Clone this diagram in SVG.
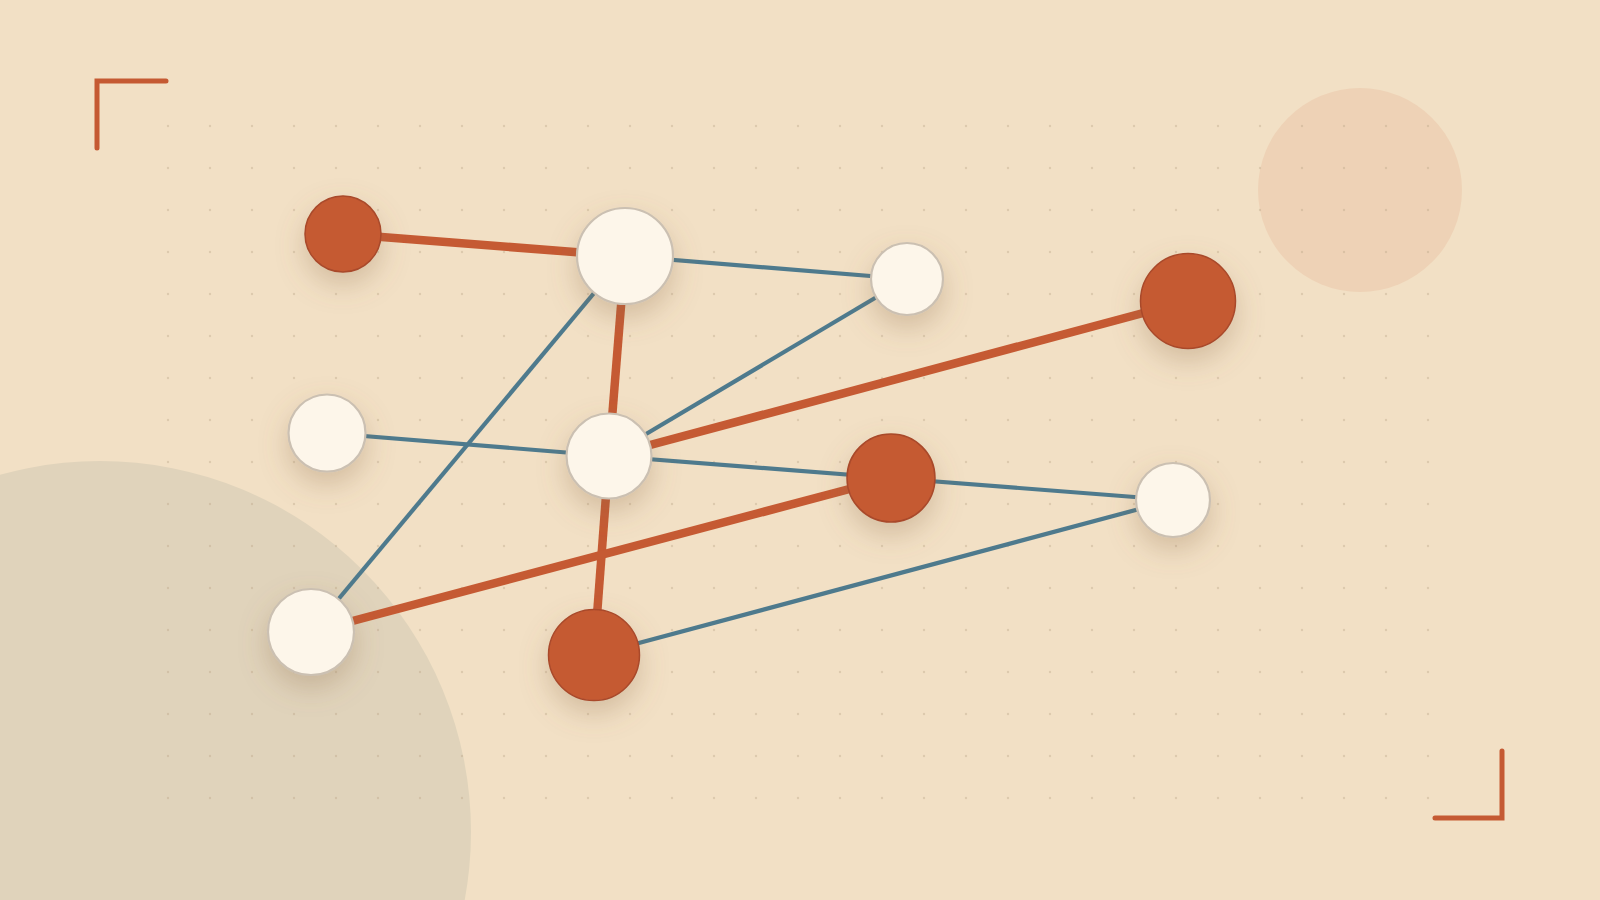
<svg xmlns="http://www.w3.org/2000/svg" width="1600" height="900" viewBox="0 0 1600 900">
  <defs>
    <style>
      .bg { fill: #f2e0c5; }
      .blob1 { fill: #e0d3bb; }
      .blob2 { fill: #eed2b6; }
      .bracket { fill: none; stroke: #c55a33; stroke-width: 5; stroke-linecap: round; stroke-linejoin: miter; }
      .e-or { stroke: #c55a33; stroke-width: 8.5; stroke-linecap: butt; fill: none; }
      .e-bl { stroke: #4e7a8d; stroke-width: 4.2; stroke-linecap: butt; fill: none; }
      .n-w { fill: #fdf6ea; stroke: #cbc0b2; stroke-width: 2.2; }
      .n-o { fill: #c55a33; stroke: #a9492a; stroke-width: 1.5; }
    </style>
    <pattern id="dots" x="147" y="105" width="42" height="42" patternUnits="userSpaceOnUse">
      <circle cx="21" cy="21" r="1.2" fill="#b9a386" fill-opacity="0.38"/>
    </pattern>
    <filter id="shadow" x="-100%" y="-100%" width="300%" height="300%">
      <feDropShadow dx="0" dy="12" stdDeviation="14" flood-color="#8c6a48" flood-opacity="0.3"/>
    </filter>
  </defs>

  <rect class="bg" x="0" y="0" width="1600" height="900"/>
  <circle class="blob1" cx="100" cy="832" r="371"/>
  <circle class="blob2" cx="1360" cy="190" r="102"/>
  <rect x="147" y="105" width="1302" height="714" fill="url(#dots)"/>

  <path class="bracket" d="M97 148 V81 H166"/>
  <path class="bracket" d="M1502 751 V818 H1435"/>

  <g id="connectors">
    <line class="e-bl" x1="625" y1="256" x2="907" y2="279"/>
    <line class="e-bl" x1="609" y1="456" x2="907" y2="279"/>
    <line class="e-bl" x1="327" y1="433" x2="609" y2="456"/>
    <line class="e-bl" x1="609" y1="456" x2="891" y2="478"/>
    <line class="e-bl" x1="891" y1="478" x2="1173" y2="500"/>
    <line class="e-bl" x1="594" y1="655" x2="1173" y2="500"/>
    <line class="e-bl" x1="625" y1="256" x2="311" y2="632"/>
    <line class="e-or" x1="343" y1="234" x2="625" y2="256"/>
    <line class="e-or" x1="625" y1="256" x2="609" y2="456"/>
    <line class="e-or" x1="609" y1="456" x2="594" y2="655"/>
    <line class="e-or" x1="609" y1="456" x2="1188" y2="301"/>
    <line class="e-or" x1="311" y1="632" x2="891" y2="478"/>
  </g>

  <g id="nodeA" filter="url(#shadow)"><circle class="n-o" cx="343" cy="234" r="38"/></g>
  <g id="nodeB" filter="url(#shadow)"><circle class="n-w" cx="625" cy="256" r="48"/></g>
  <g id="nodeC" filter="url(#shadow)"><circle class="n-w" cx="907" cy="279" r="36"/></g>
  <g id="nodeD" filter="url(#shadow)"><circle class="n-o" cx="1188" cy="301" r="47.5"/></g>
  <g id="nodeE" filter="url(#shadow)"><circle class="n-w" cx="327" cy="433" r="38.5"/></g>
  <g id="nodeF" filter="url(#shadow)"><circle class="n-w" cx="609" cy="456" r="42.5"/></g>
  <g id="nodeG" filter="url(#shadow)"><circle class="n-o" cx="891" cy="478" r="44"/></g>
  <g id="nodeH" filter="url(#shadow)"><circle class="n-w" cx="1173" cy="500" r="37"/></g>
  <g id="nodeI" filter="url(#shadow)"><circle class="n-w" cx="311" cy="632" r="43"/></g>
  <g id="nodeJ" filter="url(#shadow)"><circle class="n-o" cx="594" cy="655" r="45.5"/></g>
</svg>
